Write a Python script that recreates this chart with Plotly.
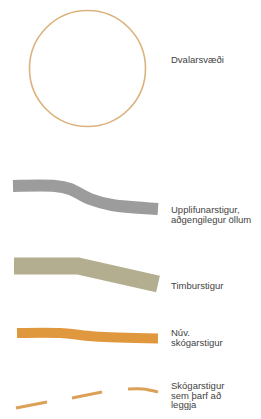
import plotly.graph_objects as go

# Legend label lines
labels = ["Dvalarsvæði",
          "Upplifunarstigur,", "aðgengilegur öllum",
          "Timburstigur",
          "Núv.", "skógarstigur",
          "Skógarstigur", "sem þarf að", "leggja"]
label_x = [171] * 9
label_y = [61, 211, 220.5, 287, 334, 344, 387, 396.5, 406]

# Circle (rest area)
circle_x = [87.5]
circle_y = [68.5]

# Path centerlines
gray_x = [13, 55, 70, 90, 112, 158]
gray_y = [186, 186, 189, 199, 205, 209]

timbur_x = [14, 78, 158]
timbur_y = [266, 266, 284]

orange_x = [17, 60, 95, 158]
orange_y = [333, 333, 336.5, 338.5]

dash_x = [16, 47, None, 72, 102, None, 128, 143, 158]
dash_y = [408, 402, None, 398, 392, None, 389, 389, 392]

fig = go.Figure()

fig.add_trace(go.Scatter(x=circle_x, y=circle_y, mode="markers",
                         marker=dict(size=116, color="white",
                                     line=dict(color="#dcb27c", width=1.6)),
                         hoverinfo="skip"))
fig.add_trace(go.Scatter(x=gray_x, y=gray_y, mode="lines",
                         line=dict(color="#9c9c9c", width=12, shape="spline", smoothing=0.8),
                         hoverinfo="skip"))
fig.add_trace(go.Scatter(x=timbur_x, y=timbur_y, mode="lines",
                         line=dict(color="#b3ae8f", width=17),
                         hoverinfo="skip"))
fig.add_trace(go.Scatter(x=orange_x, y=orange_y, mode="lines",
                         line=dict(color="#e0983e", width=10, shape="spline", smoothing=0.8),
                         hoverinfo="skip"))
fig.add_trace(go.Scatter(x=dash_x, y=dash_y, mode="lines",
                         line=dict(color="#dba158", width=3, shape="spline", smoothing=0.8),
                         hoverinfo="skip", connectgaps=False))
fig.add_trace(go.Scatter(x=label_x, y=label_y, mode="text", text=labels,
                         textposition="middle right",
                         textfont=dict(family="Liberation Sans, Arial, sans-serif",
                                       size=9.5, color="#3f3f3f"),
                         hoverinfo="skip"))

fig.update_layout(width=261, height=419, margin=dict(l=0, r=0, t=0, b=0),
                  paper_bgcolor="white", plot_bgcolor="white", showlegend=False,
                  xaxis=dict(range=[0, 261], visible=False, fixedrange=True),
                  yaxis=dict(range=[419, 0], visible=False, fixedrange=True))

fig.write_html("out.html", config={"displayModeBar": False},
               post_script="document.body.style.margin='0';document.body.style.overflow='hidden';")
